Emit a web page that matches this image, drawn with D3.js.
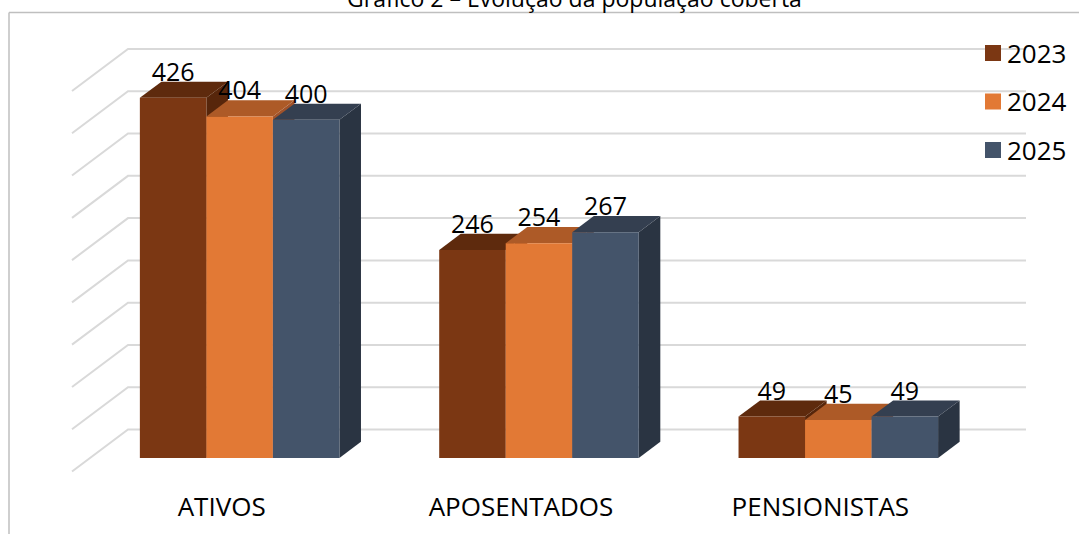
<!DOCTYPE html>
<html>
<head>
<meta charset="utf-8">
<script src="https://cdn.jsdelivr.net/npm/d3@7"></script>
<style>
  body { margin: 0; background: #fff; }
  text { font-family: 'Open Sans', sans-serif; fill: #000; }
</style>
</head>
<body>
<svg id="chart" width="1079" height="534"></svg>
<script>
const categories = ['ATIVOS', 'APOSENTADOS', 'PENSIONISTAS']
const years = ['2023', '2024', '2025']
const values2023 = [426, 246, 49]
const values2024 = [404, 254, 45]
const values2025 = [400, 267, 49]
const yTicks = [0, 50, 100, 150, 200, 250, 300, 350, 400, 450]
const titleText = 'Gráfico 2 – Evolução da população coberta'

const series = [values2023, values2024, values2025]
const frontColors = ['#7B3713', '#E27935', '#44546A']
const topColors = ['#5E2A0D', '#AD5A27', '#343F50']
const sideColors = ['#57260B', '#A0522A', '#2A3442']

const svg = d3.select('#chart')

// 3d box: front floor plane to back wall
const depth = {dx: 56, dy: 42}
const xScale = d3.scaleBand()
  .domain(categories)
  .range([72, 970])
  .paddingInner(1 / 3)
  .paddingOuter(1 / 6)
const xSer = d3.scaleBand()
  .domain(years)
  .range([0, xScale.bandwidth()])
const yScale = d3.scaleLinear()  // back wall
  .domain([0, 450])
  .range([429.5, 49])

const z0 = 0.321
const z1 = 0.706

function P (x, v, z) {
  return [x + z * depth.dx, yScale(v) + (1 - z) * depth.dy]
}

// frame
svg.append('line')
  .attr('x1', 9).attr('y1', 12.5).attr('x2', 1079).attr('y2', 12.5)
  .attr('stroke', '#BFBFBF').attr('stroke-width', 1.5)
svg.append('line')
  .attr('x1', 9).attr('y1', 12.5).attr('x2', 9).attr('y2', 534)
  .attr('stroke', '#BFBFBF').attr('stroke-width', 1.5)

svg.append('text')
  .attr('x', 574.5)
  .attr('y', 7)
  .attr('text-anchor', 'middle')
  .style('font-size', '23px')
  .text(titleText)

// gridlines
const [xl, xr] = xScale.range()
svg.append('g')
  .selectAll('polyline')
  .data(yTicks)
  .enter()
  .append('polyline')
  .attr('points', d => [P(xl, d, 0), P(xl, d, 1), P(xr, d, 1)].map(p => p.join(',')).join(' '))
  .attr('fill', 'none')
  .attr('stroke', '#D9D9D9')
  .attr('stroke-width', 2)

// bars
const bars = svg.append('g')
categories.forEach((c, ci) => {
  years.forEach((y, si) => {
    const v = series[si][ci]
    const x0 = xScale(c) + xSer(y)
    const x1 = x0 + xSer.bandwidth()
    const g = bars.append('g')
    const poly = pts => pts.map(p => p.join(',')).join(' ')
    g.append('polygon')
      .attr('points', poly([P(x1, 0, z0), P(x1, 0, z1), P(x1, v, z1), P(x1, v, z0)]))
      .attr('fill', sideColors[si])
    g.append('polygon')
      .attr('points', poly([P(x0, v, z0), P(x1, v, z0), P(x1, v, z1), P(x0, v, z1)]))
      .attr('fill', topColors[si])
    g.append('polygon')
      .attr('points', poly([P(x0, 0, z0), P(x1, 0, z0), P(x1, v, z0), P(x0, v, z0)]))
      .attr('fill', frontColors[si])
  })
})

// value labels
categories.forEach((c, ci) => {
  years.forEach((y, si) => {
    const v = series[si][ci]
    const xm = xScale(c) + xSer(y) + xSer.bandwidth() / 2
    const p = P(xm, v, z0)
    svg.append('text')
      .attr('x', p[0])
      .attr('y', p[1] - 17)
      .attr('text-anchor', 'middle')
      .style('font-size', '25px')
      .text(v)
  })
})

// category labels
svg.append('g')
  .selectAll('text')
  .data(categories)
  .enter()
  .append('text')
  .attr('x', d => xScale(d) + xScale.bandwidth() / 2)
  .attr('y', 515.5)
  .attr('text-anchor', 'middle')
  .style('font-size', '26px')
  .text(d => d)

// legend
const legend = svg.append('g')
years.forEach((y, i) => {
  const cy = 53 + i * 48.5
  legend.append('rect')
    .attr('x', 985).attr('y', cy - 8)
    .attr('width', 16).attr('height', 16)
    .attr('fill', frontColors[i])
  legend.append('text')
    .attr('x', 1007).attr('y', cy + 9.5)
    .style('font-size', '26px')
    .text(y)
})
</script>
</body>
</html>
